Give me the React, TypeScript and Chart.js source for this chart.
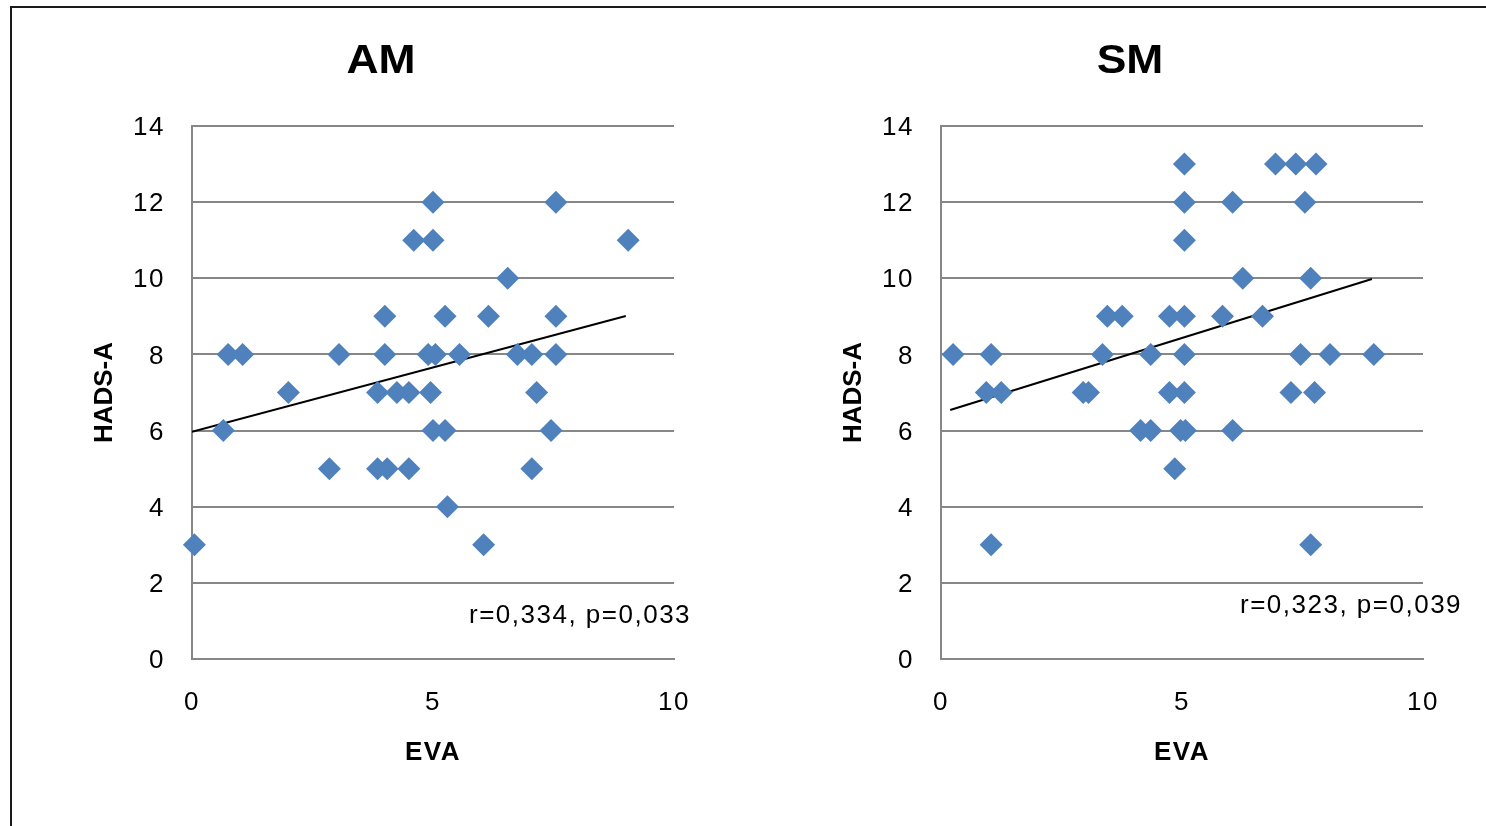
import React, { useEffect, useRef } from "react";
import { Chart, registerables } from "chart.js";

Chart.register(...registerables);

// ---- Data ----
const amX = [0.05, 0.65, 0.75, 1.05, 2.0, 2.85, 3.05, 3.85, 3.85, 4.0, 4.0, 4.05, 4.25, 4.5, 4.5, 4.6, 4.95, 5.0, 5.0, 4.9, 5.05, 5.0, 5.25, 5.25, 5.3, 5.55, 6.15, 6.05, 6.55, 6.75, 7.05, 7.15, 7.05, 7.45, 7.55, 7.55, 7.55, 9.05];
const amY = [3, 6, 8, 8, 7, 5, 8, 7, 5, 9, 8, 5, 7, 7, 5, 11, 7, 12, 11, 8, 8, 6, 6, 9, 4, 8, 9, 3, 10, 8, 8, 7, 5, 6, 12, 9, 8, 11];
const amTrendX = [0, 9.0];
const amTrendY = [5.97, 9.01];
const amStats = "r=0,334, p=0,033";

const smX = [5.05, 6.94, 7.36, 7.78, 5.05, 6.05, 7.55, 5.05, 6.26, 7.67, 3.45, 3.76, 4.74, 5.05, 5.84, 6.67, 0.25, 1.04, 3.35, 4.35, 5.05, 7.46, 8.07, 8.98, 0.94, 1.25, 2.95, 3.06, 4.74, 5.05, 7.26, 7.75, 4.14, 4.35, 4.97, 5.07, 6.05, 4.85, 1.04, 7.67];
const smY = [13, 13, 13, 13, 12, 12, 12, 11, 10, 10, 9, 9, 9, 9, 9, 9, 8, 8, 8, 8, 8, 8, 8, 8, 7, 7, 7, 7, 7, 7, 7, 7, 6, 6, 6, 6, 6, 5, 3, 3];
const smTrendX = [0.19, 8.94];
const smTrendY = [6.54, 9.98];
const smStats = "r=0,323, p=0,039";

const yTicks = [0, 2, 4, 6, 8, 10, 12, 14];
const xTicks = [0, 5, 10];
const xTitle = "EVA";
const yTitle = "HADS-A";

const FONT = "'Liberation Sans', Arial, sans-serif";
const BLUE = "#4F81BD";
const GRID = "#878787";

type PanelProps = {
  title: string;
  xs: number[];
  ys: number[];
  tx: number[];
  ty: number[];
  stats: string;
  statsDx: number;
  statsY: number;
  left: number;
  width: number;
};

function Panel(p: PanelProps) {
  const ref = useRef<HTMLCanvasElement | null>(null);
  useEffect(() => {
    if (!ref.current) return;
    const textPlugin = {
      id: "texts",
      beforeDraw(chart: any) {
        (chart.ctx as any).letterSpacing = "1.5px";
      },
      afterDraw(chart: any) {
        const ctx = chart.ctx as any;
        const ca = chart.chartArea;
        ctx.save();
        ctx.fillStyle = "#000";
        // chart title, slightly widened as in the reference
        ctx.letterSpacing = "0px";
        ctx.font = `bold 40px ${FONT}`;
        ctx.textAlign = "center";
        ctx.textBaseline = "middle";
        ctx.save();
        ctx.translate(381, 62);
        ctx.scale(1.11, 1);
        ctx.fillText(p.title, 0, 0);
        ctx.restore();
        // y axis title
        ctx.font = `bold 26px ${FONT}`;
        ctx.save();
        ctx.translate(105, (ca.top + ca.bottom) / 2);
        ctx.rotate(-Math.PI / 2);
        ctx.fillText(yTitle, 0, 0);
        ctx.restore();
        // stats annotation
        ctx.letterSpacing = "1.5px";
        ctx.font = `26px ${FONT}`;
        ctx.textAlign = "left";
        ctx.fillText(p.stats, ca.left + p.statsDx, p.statsY);
        ctx.restore();
      },
    };
    const chart = new Chart(ref.current, {
      type: "scatter",
      data: {
        datasets: [
          {
            type: "scatter",
            data: p.xs.map((x, i) => ({ x, y: p.ys[i] })),
            pointStyle: "rectRot",
            pointRadius: 11.5,
            pointHoverRadius: 11.5,
            backgroundColor: BLUE,
            borderColor: BLUE,
            borderWidth: 0,
            clip: false,
          },
          {
            type: "line",
            data: p.tx.map((x, i) => ({ x, y: p.ty[i] })),
            borderColor: "#000",
            borderWidth: 2,
            pointRadius: 0,
            showLine: true,
            fill: false,
          } as any,
        ],
      },
      options: {
        animation: false,
        responsive: false,
        devicePixelRatio: 1,
        layout: { padding: { left: 88, top: 126, right: p.width - 674, bottom: 54 } },
        plugins: { legend: { display: false }, tooltip: { enabled: false }, title: { display: false } },
        scales: {
          x: {
            type: "linear",
            min: 0,
            max: 10,
            afterBuildTicks: (s: any) => {
              s.ticks = xTicks.map((v) => ({ value: v }));
            },
            afterFit: (s: any) => {
              s.height = 113;
            },
            grid: { display: false, drawTicks: false },
            border: { display: true, color: GRID, width: 2 },
            ticks: { color: "#000", font: { size: 26, family: FONT }, padding: 28, maxRotation: 0 },
            title: { display: true, text: xTitle, color: "#000", font: { size: 26, weight: "bold", family: FONT } },
          },
          y: {
            type: "linear",
            min: 0,
            max: 14,
            afterBuildTicks: (s: any) => {
              s.ticks = yTicks.map((v) => ({ value: v }));
            },
            afterFit: (s: any) => {
              s.width = 104;
            },
            grid: { color: GRID, lineWidth: 2, drawTicks: false },
            border: { display: true, color: GRID, width: 2 },
            ticks: { color: "#000", font: { size: 26, family: FONT }, padding: 27, labelOffset: 2 },
            title: { display: false },
          },
        },
      },
      plugins: [textPlugin],
    } as any);
    return () => chart.destroy();
  }, []);
  return (
    <canvas
      ref={ref}
      width={p.width}
      height={826}
      style={{ position: "absolute", left: p.left, top: 0, width: p.width, height: 826 }}
    />
  );
}

export default function App() {
  return (
    <div style={{ position: "fixed", left: 0, top: 0, width: 1486, height: 826, overflow: "hidden", background: "#fff" }}>
      <div
        style={{
          position: "absolute",
          left: 10,
          top: 6,
          width: 1520,
          height: 900,
          border: "2px solid #1a1a1a",
          boxSizing: "border-box",
        }}
      />
      <Panel title="AM" xs={amX} ys={amY} tx={amTrendX} ty={amTrendY} stats={amStats} statsDx={277} statsY={616} left={0} width={743} />
      <Panel title="SM" xs={smX} ys={smY} tx={smTrendX} ty={smTrendY} stats={smStats} statsDx={299} statsY={606} left={749} width={737} />
    </div>
  );
}
